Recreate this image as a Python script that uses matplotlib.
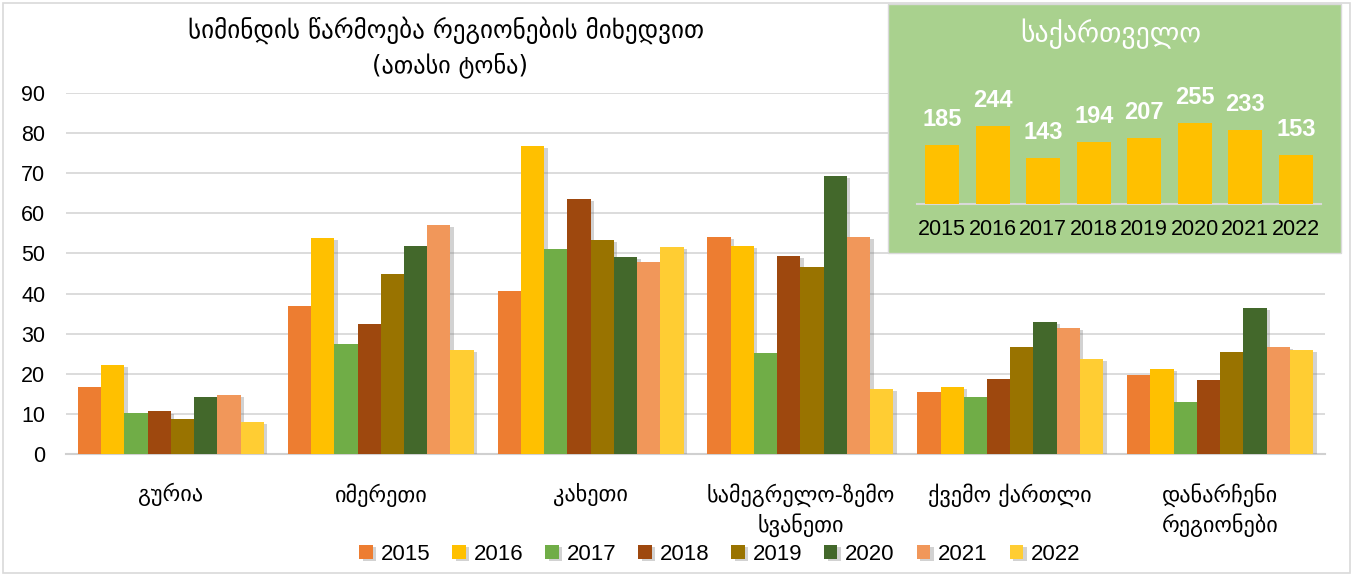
import numpy as np
import matplotlib
matplotlib.use("Agg")
import matplotlib.pyplot as plt
from matplotlib.patches import Rectangle
import matplotlib.patheffects as pe

plt.rcParams['font.family'] = ['Liberation Sans', 'DejaVu Sans']

regions = ["გურია", "იმერეთი", "კახეთი", "სამეგრელო-ზემო\nსვანეთი", "ქვემო ქართლი", "დანარჩენი\nრეგიონები"]
years = ["2015", "2016", "2017", "2018", "2019", "2020", "2021", "2022"]
v2015 = [16.7, 37.0, 40.6, 54.1, 15.5, 19.7]
v2016 = [22.3, 53.8, 76.8, 51.9, 16.8, 21.3]
v2017 = [10.3, 27.5, 51.0, 25.3, 14.3, 13.0]
v2018 = [10.6, 32.3, 63.5, 49.3, 18.8, 18.5]
v2019 = [8.8, 45.0, 53.4, 46.7, 26.6, 25.5]
v2020 = [14.3, 51.8, 49.1, 69.4, 33.0, 36.3]
v2021 = [14.8, 57.0, 47.9, 54.1, 31.4, 26.8]
v2022 = [8.1, 26.0, 51.6, 16.2, 23.8, 26.0]
series = [v2015, v2016, v2017, v2018, v2019, v2020, v2021, v2022]
colors = ["#ED7D31", "#FFC000", "#70AD47", "#9E480E", "#997300", "#43682B", "#F1975A", "#FFCD33"]

georgia_total = [185, 244, 143, 194, 207, 255, 233, 153]

title = "სიმინდის წარმოება რეგიონების მიხედვით"
subtitle = "(ათასი ტონა)"
inset_title = "საქართველო"

W, H = 1354, 575
fig = plt.figure(figsize=(W / 100, H / 100), dpi=100)
fig.patch.set_facecolor("white")

# outer border
fig.patches.append(Rectangle((3 / W, 2 / H), (W - 7) / W, (H - 5) / H, transform=fig.transFigure,
                             fill=False, edgecolor="#D9D9D9", linewidth=1.2))

ax = fig.add_axes([66 / W, 1 - 454 / H, (1325 - 66) / W, (454 - 93) / H])
n = len(series)
x = np.arange(len(regions))
group_w = 0.886
bw = group_w / n
shadow = [pe.SimplePatchShadow(offset=(2.5, -1.5), shadow_rgbFace="#808080", alpha=0.35), pe.Normal()]
for i, (vals, c) in enumerate(zip(series, colors)):
    bars = ax.bar(x - group_w / 2 + bw * (i + 0.5), vals, width=bw, color=c, label=years[i], zorder=3)
    for b in bars:
        b.set_path_effects(shadow)

ax.set_xlim(-0.5, len(regions) - 0.5)
ax.set_ylim(0, 90)
ax.set_yticks(np.arange(0, 91, 10))
ax.yaxis.grid(True, color="#D9D9D9", linewidth=1.3, zorder=0)
ax.set_axisbelow(True)
for s in ["top", "right", "left"]:
    ax.spines[s].set_visible(False)
ax.spines["bottom"].set_color("#D0D0D0")
ax.spines["bottom"].set_linewidth(1.5)
ax.tick_params(axis="y", length=0, labelsize=15.5, pad=15, colors="black")
ax.tick_params(axis="x", length=0, pad=21)
ax.set_xticks(x)
ax.set_xticklabels(regions, fontsize=16, family=["DejaVu Sans"], linespacing=1.35, va="top")

fig.text(446 / W, 1 - 30 / H, title, ha="center", va="center", fontsize=18, family=["DejaVu Sans"])
fig.text(450 / W, 1 - 65 / H, subtitle, ha="center", va="center", fontsize=17.5, family=["DejaVu Sans"])

leg = fig.legend(loc="center", bbox_to_anchor=(720 / W, 1 - 554 / H), ncol=8, frameon=False,
                 fontsize=16, handlelength=0.6, handleheight=0.6, handletextpad=0.35, columnspacing=1.0)

# inset panel
fig.patches.append(Rectangle((888 / W, 1 - 253 / H), (1341 - 888) / W, (253 - 4) / H, transform=fig.transFigure,
                             facecolor="#A9D18E", edgecolor="#D9D9D9", linewidth=1, zorder=5))
iax = fig.add_axes([917 / W, 1 - 204 / H, (1321 - 917) / W, 124 / H], zorder=6)
iax.patch.set_alpha(0)
ix = np.arange(len(years))
ibars = iax.bar(ix, georgia_total, width=0.67, color="#FFC000", zorder=3)
iax.set_xlim(-0.5, len(years) - 0.5)
iax.set_ylim(0, 388)
for s in ["top", "right", "left"]:
    iax.spines[s].set_visible(False)
iax.spines["bottom"].set_color("#D9D9D9")
iax.spines["bottom"].set_linewidth(1.5)
iax.set_yticks([])
iax.set_xticks(ix)
iax.set_xticklabels(years, fontsize=15.5)
iax.tick_params(axis="x", length=0, pad=11)
for xi, v in zip(ix, georgia_total):
    iax.annotate(str(v), (xi, v), xytext=(0, 10), textcoords="offset points", ha="center", va="bottom",
                 color="white", fontsize=17, fontweight="bold")
fig.text(1111 / W, 1 - 34 / H, inset_title, ha="center", va="center", fontsize=20, color="white",
         family=["DejaVu Sans"], zorder=7)

fig.savefig("out.png", dpi=100, facecolor="white")
